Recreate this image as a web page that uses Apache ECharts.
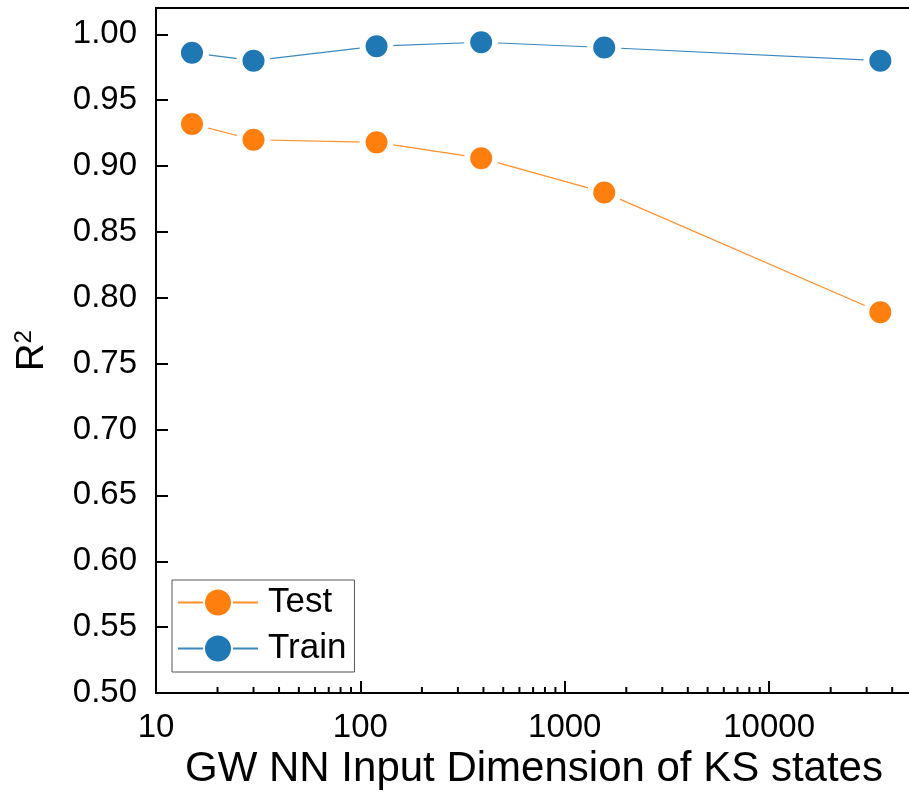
<!DOCTYPE html>
<html><head><meta charset="utf-8">
<script src="https://cdn.jsdelivr.net/npm/echarts@6/dist/echarts.min.js"></script>
<style>html,body{margin:0;padding:0;background:#fff}#c{width:909px;height:792px}</style>
</head><body><div id="c"></div>
<script>
// ---- data ----
const xValues = [15, 30, 120, 390, 1560, 35000];
const testR2 = [0.932, 0.920, 0.918, 0.906, 0.880, 0.789];
const trainR2 = [0.986, 0.980, 0.991, 0.994, 0.990, 0.980];
const seriesNames = ['Test', 'Train'];
const xMajorTicks = [10, 100, 1000, 10000];
const minorMultipliers = [2, 3, 4, 5, 6, 7, 8, 9];
const xTitle = 'GW NN Input Dimension of KS states';
const yTitleBase = 'R';
const yTitleSup = '2';

const FONT = 'Liberation Sans, Arial, sans-serif';
const chart = echarts.init(document.getElementById('c'), null, {renderer: 'canvas'});

function pairs(ys) { return xValues.map((x, i) => [x, ys[i]]); }

const option = {
  backgroundColor: '#fff',
  animation: false,
  textStyle: {fontFamily: FONT},
  grid: {left: 156, top: 8, width: 756, height: 685, show: true, borderColor: '#000', borderWidth: 2,
    backgroundColor: 'transparent', containLabel: false, outerBoundsMode: 'none'},
  legend: {
    orient: 'vertical', left: 172, top: 580,
    itemWidth: 80, itemHeight: 35, itemGap: 11,
    padding: [5, 8, 6, 5],
    borderColor: '#555', borderWidth: 1,
    textStyle: {fontSize: 35, color: '#000', fontFamily: FONT, padding: [0, 0, 0, 5]},
    data: seriesNames
  },
  xAxis: {
    type: 'log', logBase: 10, min: 10, max: 50000,
    name: xTitle, nameLocation: 'middle', nameGap: 55,
    nameTextStyle: {fontSize: 42, color: '#000', fontFamily: FONT},
    axisLine: {lineStyle: {color: '#000', width: 2}},
    axisTick: {inside: true, length: 12, lineStyle: {color: '#000', width: 2}},
    axisLabel: {fontSize: 33, color: '#000', margin: 18, showMaxLabel: false,
      formatter: v => (xMajorTicks.indexOf(Math.round(v)) >= 0 ? String(Math.round(v)) : '')},
    splitLine: {show: false}
  },
  yAxis: {
    type: 'value', min: 0.5, max: 1.02, interval: 0.05,
    name: '{a|' + yTitleBase + '}{b|' + yTitleSup + '}', nameLocation: 'middle', nameGap: 104, nameRotate: 90,
    nameTextStyle: {color: '#000', fontFamily: FONT,
      rich: {
        a: {fontSize: 38, lineHeight: 40, color: '#000', fontFamily: FONT, verticalAlign: 'bottom'},
        b: {fontSize: 24, lineHeight: 40, color: '#000', fontFamily: FONT, verticalAlign: 'top'}
      }},
    axisLine: {show: true, lineStyle: {color: '#000', width: 2}},
    axisTick: {show: true, inside: true, length: 12, lineStyle: {color: '#000', width: 2}},
    axisLabel: {fontSize: 33, color: '#000', margin: 19, showMaxLabel: false,
      formatter: v => v.toFixed(2)},
    splitLine: {show: false}
  },
  series: [
    {name: seriesNames[0], type: 'line', data: pairs(testR2), symbol: 'circle', symbolSize: 28,
      color: '#ff7f0e',
      itemStyle: {color: '#ff7f0e', borderColor: '#fff', borderWidth: 6},
      lineStyle: {color: '#ff8f2a', width: 1.2}, z: 3},
    {name: seriesNames[1], type: 'line', data: pairs(trainR2), symbol: 'circle', symbolSize: 28,
      color: '#1f77b4',
      itemStyle: {color: '#1f77b4', borderColor: '#fff', borderWidth: 6},
      lineStyle: {color: '#3a88c0', width: 1.2}, z: 3}
  ]
};
chart.setOption(option);

// minor ticks on the log x axis, positioned through the axis scale
const yBase = chart.convertToPixel({yAxisIndex: 0}, 0.5);
const minorEls = [];
xMajorTicks.forEach(d => {
  minorMultipliers.forEach(m => {
    const v = d * m;
    if (v > 50000) return;
    const px = chart.convertToPixel({xAxisIndex: 0}, v);
    minorEls.push({type: 'line', shape: {x1: px, y1: yBase, x2: px, y2: yBase - 6},
      style: {stroke: '#000', lineWidth: 2}, z: 10, silent: true});
  });
});
chart.setOption({graphic: minorEls});
</script></body></html>
